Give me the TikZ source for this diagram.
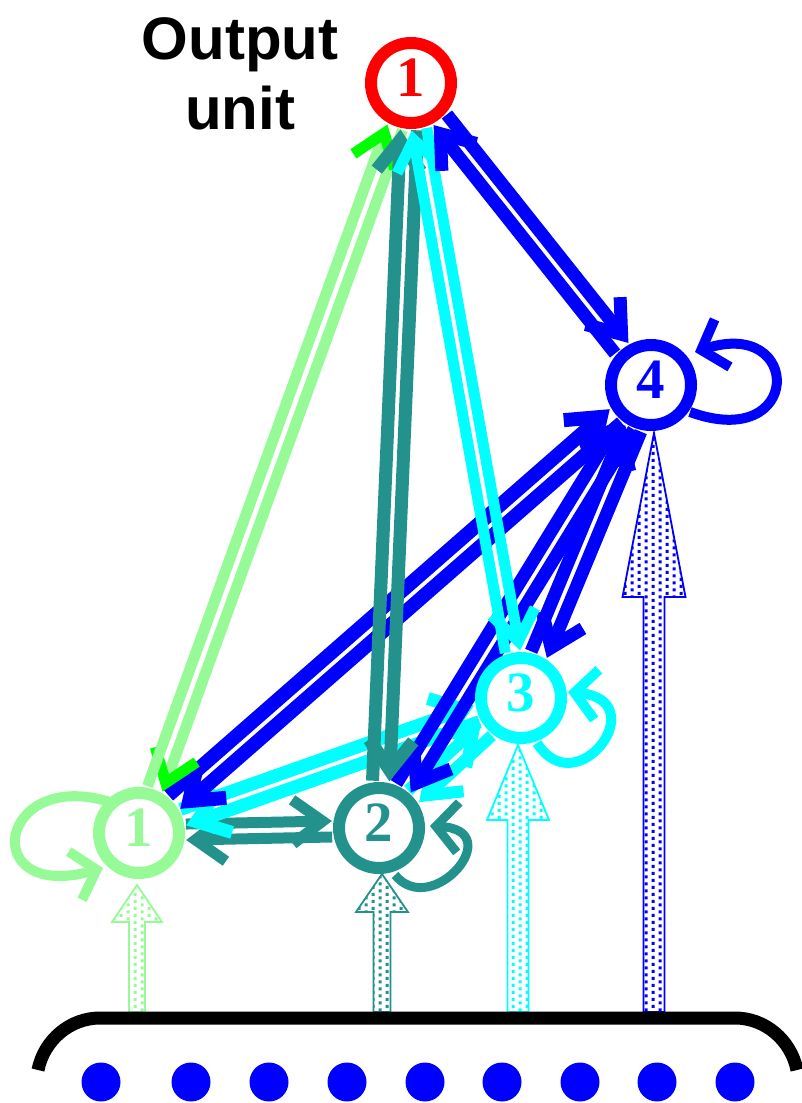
\documentclass[tikz,border=0pt]{standalone}
\usepackage{fontspec}
\setmainfont{Liberation Serif}
\newfontfamily\labelsans{Liberation Sans}
\usetikzlibrary{arrows.meta,calc,patterns}
\pgfdeclarelayer{background}
\pgfsetlayers{background,main}
\definecolor{lgreen}{RGB}{150,250,150}
\definecolor{bgreen}{RGB}{0,255,0}
\definecolor{tealc}{RGB}{35,145,140}
\definecolor{cyanc}{RGB}{0,255,255}
\definecolor{bluec}{RGB}{0,0,255}
\definecolor{redc}{RGB}{255,0,0}
\pgfdeclarepatternformonly{sqdots}{\pgfpoint{-1pt}{-1pt}}{\pgfpoint{15pt}{15pt}}{\pgfpoint{14pt}{14pt}}{%
  \pgfpathrectangle{\pgfpoint{0.5pt}{0.5pt}}{\pgfpoint{3pt}{3pt}}%
  \pgfpathrectangle{\pgfpoint{7.5pt}{4pt}}{\pgfpoint{3pt}{3pt}}%
  \pgfpathrectangle{\pgfpoint{0.5pt}{7.5pt}}{\pgfpoint{3pt}{3pt}}%
  \pgfpathrectangle{\pgfpoint{7.5pt}{11pt}}{\pgfpoint{3pt}{3pt}}%
  \pgfusepath{fill}}
% from, to, line colour, head colour, line width, offset
\newcommand\mylink[6]{%
  \draw[line width=#5, draw=#3, -{Straight Barb[length=30pt,width=44pt,color=#4]},
        shorten <=47pt, shorten >=47pt]
    ($(#1)!#6!90:(#2)$) -- ($(#2)!#6!-90:(#1)$);}
% x, shaft half width, head half width, head base y, tip y, colour
\newcommand\inarrow[6]{%
  \draw[line width=1.8pt, draw=#6, pattern=sqdots, pattern color=#6]
    (#1-#2,1012) -- (#1-#2,#4) -- (#1-#3,#4) -- (#1,#5) -- (#1+#3,#4)
    -- (#1+#2,#4) -- (#1+#2,1012) -- cycle;}
\begin{document}
\begin{tikzpicture}[x=1pt,y=-1pt,
  unit/.style={circle, draw=#1, text=#1, fill=white, line width=12pt,
    minimum size=80pt, inner sep=0pt, text depth=10pt,
    font=\fontsize{57}{57}\selectfont\bfseries},
  selfloop/.style={line width=10pt, draw=#1,
    -{Straight Barb[length=22pt,width=50pt]}},
  dot/.style={fill=bluec}]
\useasboundingbox (0,0) rectangle (801,1103);

\node[font=\labelsans\bfseries\fontsize{60}{70}\selectfont, align=center, inner sep=0pt]
  (lbl) at (240,74) {Output\\unit};

\node[unit=redc]   (O)  at (411,83)  {1};
\node[unit=bluec]  (N4) at (651,385) {4};
\node[unit=cyanc]  (N3) at (521,698) {3};
\node[unit=tealc]  (N2) at (379,828) {2};
\node[unit=lgreen] (N1) at (139,833) {1};

\begin{pgfonlayer}{background}
  \mylink{N1}{N2}{tealc}{tealc}{11pt}{8pt}
  \mylink{N2}{N1}{tealc}{tealc}{11pt}{8pt}
  \mylink{N3}{N1}{cyanc}{cyanc}{13pt}{8.5pt}
  \mylink{N1}{N3}{cyanc}{cyanc}{13pt}{8.5pt}
  \mylink{N3}{N2}{cyanc}{cyanc}{12pt}{8pt}
  \mylink{N2}{N3}{cyanc}{cyanc}{12pt}{8pt}
  \mylink{N4}{N1}{bluec}{bluec}{14pt}{9pt}
  \mylink{N1}{N4}{bluec}{bluec}{14pt}{9pt}
  \mylink{N4}{N2}{bluec}{bluec}{13pt}{8.5pt}
  \mylink{N2}{N4}{bluec}{bluec}{13pt}{8.5pt}
  \mylink{N4}{N3}{bluec}{bluec}{13pt}{8.5pt}
  \mylink{N3}{N4}{bluec}{bluec}{13pt}{8.5pt}
  \mylink{O}{N1}{lgreen}{bgreen}{11pt}{8pt}
  \mylink{N1}{O}{lgreen}{bgreen}{11pt}{8pt}
  \mylink{O}{N2}{tealc}{tealc}{13pt}{8.5pt}
  \mylink{N2}{O}{tealc}{tealc}{13pt}{8.5pt}
  \mylink{O}{N3}{cyanc}{cyanc}{11pt}{7.5pt}
  \mylink{N3}{O}{cyanc}{cyanc}{11pt}{7.5pt}
  \mylink{O}{N4}{bluec}{bluec}{13pt}{8.5pt}
  \mylink{N4}{O}{bluec}{bluec}{13pt}{8.5pt}
\end{pgfonlayer}

% self loops
\draw[selfloop=bluec] ($(N4)+(39,27)$) .. controls ($(N4)+(152,68)$) and ($(N4)+(152,-68)$) .. ($(N4)+(44,-33)$);
\draw[selfloop=cyanc] ($(N3)+(16,45)$) .. controls ($(N3)+(56,108)$) and ($(N3)+(134,2)$) .. ($(N3)+(47,-6)$);
\draw[selfloop=tealc, line width=9pt] ($(N2)+(16,47)$) .. controls ($(N2)+(53,92)$) and ($(N2)+(130,2)$) .. ($(N2)+(51,-2)$);
\draw[selfloop=lgreen] ($(N1)+(-29,-31)$) .. controls ($(N1)+(-142,-66)$) and ($(N1)+(-162,70)$) .. ($(N1)+(-36,35)$);

% input arrows
\inarrow{137}{8}{25}{922}{885}{lgreen}
\inarrow{382}{8.5}{26}{912}{874}{tealc}
\inarrow{518}{10.5}{31}{820}{745}{cyanc}
\inarrow{654}{10.5}{31.5}{597}{433}{bluec}

% input layer
\draw[line width=13pt] (38,1070) .. controls (44,1040) and (70,1018) .. (100,1018)
  -- (735,1018) .. controls (765,1018) and (791,1040) .. (797,1070);
\foreach \x in {101,191,269,347,425,502,580,657,735}
  \fill[dot] (\x,1082) circle[radius=19.5pt];
\end{tikzpicture}
\end{document}
